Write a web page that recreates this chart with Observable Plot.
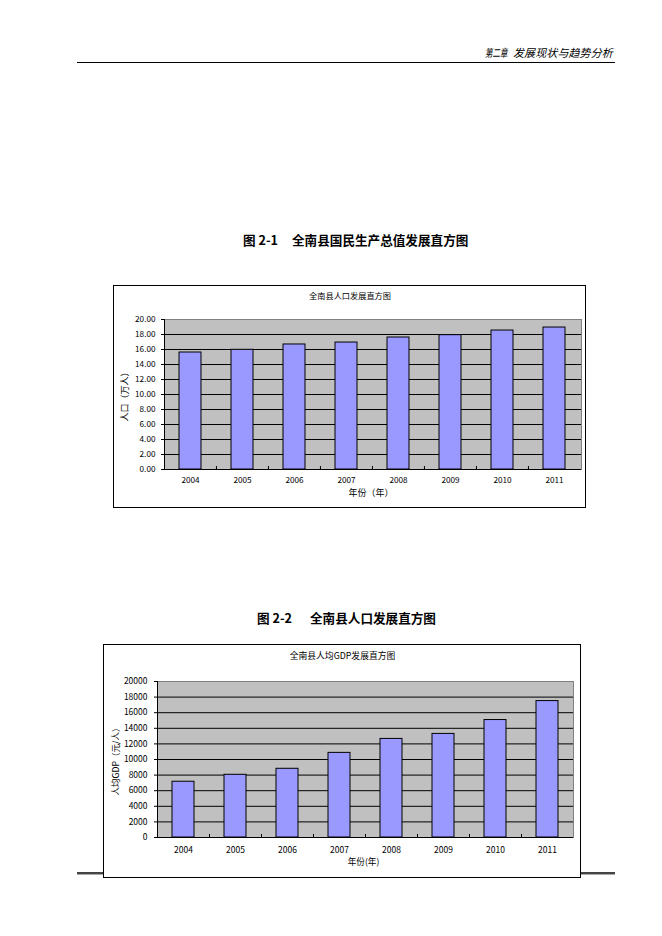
<!DOCTYPE html>
<html>
<head>
<meta charset="utf-8">
<script src="https://cdn.jsdelivr.net/npm/d3@7"></script>
<script src="https://cdn.jsdelivr.net/npm/@observablehq/plot@0.6"></script>
<style>
html, body { margin: 0; padding: 0; background: #fff; }
#page { position: relative; width: 662px; height: 936px; overflow: hidden; font-family: "Noto Sans CJK SC", sans-serif; color: #000; }
.abs { position: absolute; white-space: nowrap; }
.box { position: absolute; box-sizing: border-box; border: 1px solid #000; background: #fff; }
.box svg { display: block; }
.doctitle { font-weight: 700; font-size: 12.6px; line-height: 12.6px; }
.hdr { font-style: italic; font-size: 11px; line-height: 11px; }
</style>
</head>
<body>
<div id="page">
  <div class="abs hdr" style="left:485px;top:47px;"><span style="display:inline-block;transform:scaleX(0.68);transform-origin:left center;">第二章</span></div>
  <div class="abs hdr" style="left:513px;top:47px;letter-spacing:0.1px;">发展现状与趋势分析</div>
  <div class="abs" style="left:77px;top:62px;width:538px;height:1px;background:#000;"></div>

  <div class="abs doctitle" style="left:243px;top:234px;">图 2-1</div>
  <div class="abs doctitle" style="left:292px;top:234px;">全南县国民生产总值发展直方图</div>

  <div class="box" id="chart1" style="left:113px;top:285px;width:473px;height:223px;"></div>

  <div class="abs doctitle" style="left:257px;top:612px;">图 2-2</div>
  <div class="abs doctitle" style="left:310px;top:612px;">全南县人口发展直方图</div>

  <div class="abs" style="left:77px;top:872px;width:538px;height:2px;background:#444;"></div>
  <div class="abs" style="left:77px;top:874px;width:538px;height:1px;background:#aaa;"></div>

  <div class="box" id="chart2" style="left:103px;top:644px;width:478px;height:234px;"></div>
</div>
<script>
// ---- data ----
const years = ["2004", "2005", "2006", "2007", "2008", "2009", "2010", "2011"];
const population = [15.60, 15.96, 16.67, 16.93, 17.60, 17.91, 18.53, 18.93]; // 万人
const gdpPerCapita = [7150, 8040, 8810, 10850, 12640, 13280, 15060, 17490]; // 元/人
const popTicks = [0, 2, 4, 6, 8, 10, 12, 14, 16, 18, 20];
const gdpTicks = [0, 2000, 4000, 6000, 8000, 10000, 12000, 14000, 16000, 18000, 20000];
const chart1Title = "全南县人口发展直方图";
const chart1YLabel = "人口（万人）";
const chart1XLabel = "年份（年）";
const chart2Title = "全南县人均GDP发展直方图";
const chart2YLabel = "人均GDP（元/人）";
const chart2XLabel = "年份(年)";

const FONT = "'Noto Sans CJK SC', sans-serif";

function makeChart(o) {
  const data = years.map((year, i) => ({year, value: o.values[i]}));
  const plotW = o.width - o.ml - o.mr;
  const plotH = o.height - o.mt - o.mb;
  const step = plotW / years.length;
  const top = o.ticks[o.ticks.length - 1];
  return Plot.plot({
    width: o.width,
    height: o.height,
    marginLeft: o.ml, marginTop: o.mt, marginRight: o.mr, marginBottom: o.mb,
    style: {background: "transparent", fontFamily: FONT, fontSize: o.fontSize + "px", color: "#000", overflow: "visible"},
    x: {type: "band", domain: years, paddingInner: 0.57, paddingOuter: 0.285, tickSize: 0, tickPadding: o.xPad, label: null},
    y: {domain: [0, top], ticks: o.ticks, tickFormat: o.fmt, tickSize: 3, tickPadding: o.yPad, label: null},
    marks: [
      Plot.frame({fill: "#c0c0c0", stroke: "#808080"}),
      Plot.ruleY(o.ticks.slice(0, -1), {stroke: "#000", strokeWidth: 1}),
      Plot.barY(data, {x: "year", y: "value", fill: "#9999ff", stroke: "#000", strokeWidth: 1}),
      Plot.ruleX(years.slice(1), {x: d => d, dx: -step / 2, insetTop: plotH - 3, stroke: "#000"}),
      Plot.frame({anchor: "left", stroke: "#000"}),
      Plot.text([o.title], {text: d => d, frameAnchor: "top", lineAnchor: "middle", textAnchor: "middle", dx: (o.mr - o.ml) / 2, dy: -(o.mt - o.titleY), fontSize: o.titleSize}),
      Plot.text([o.ylabel], {text: d => d, frameAnchor: "left", lineAnchor: "middle", textAnchor: "middle", rotate: -90, dx: o.ylabelDx, fontSize: o.labelSize}),
      Plot.text([o.xlabel], {text: d => d, frameAnchor: "bottom", lineAnchor: "middle", textAnchor: "middle", dy: o.xlabelDy, dx: o.xlabelDx, fontSize: o.labelSize})
    ]
  });
}

document.getElementById("chart1").appendChild(makeChart({
  values: population, ticks: popTicks, fmt: d3.format(".2f"),
  width: 471, height: 221, ml: 50, mt: 33, mr: 4, mb: 38,
  title: chart1Title, ylabel: chart1YLabel, xlabel: chart1XLabel,
  titleY: 10, ylabelDx: -39, xlabelDy: 24, xlabelDx: -2,
  xPad: 8, yPad: 6, fontSize: 8.2, titleSize: 8.2, labelSize: 9
}));

document.getElementById("chart2").appendChild(makeChart({
  values: gdpPerCapita, ticks: gdpTicks, fmt: d3.format("d"),
  width: 476, height: 232, ml: 53, mt: 36, mr: 7, mb: 40,
  title: chart2Title, ylabel: chart2YLabel, xlabel: chart2XLabel,
  titleY: 11, ylabelDx: -41, xlabelDy: 25, xlabelDx: -2,
  xPad: 9, yPad: 7, fontSize: 8.5, titleSize: 8.8, labelSize: 8.6
}));
</script>
</body>
</html>
